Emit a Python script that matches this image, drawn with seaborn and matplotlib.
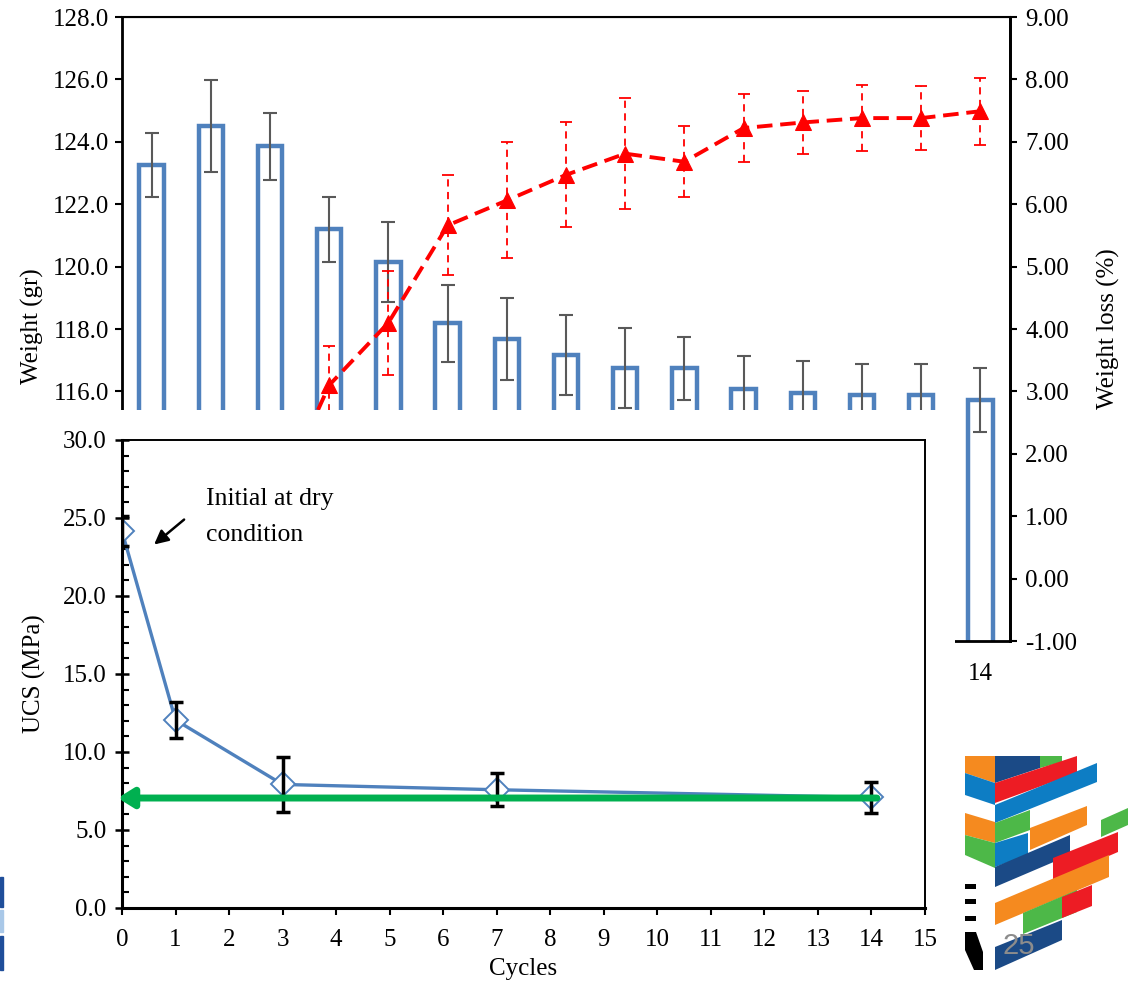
import numpy as np
import pandas as pd
import matplotlib
matplotlib.use("Agg")
import matplotlib.pyplot as plt
import seaborn as sns
from matplotlib.patches import Polygon, Rectangle
from matplotlib.ticker import FormatStrFormatter, MultipleLocator

# ---------------- data ----------------
cycles = list(range(15))
weight_gr = [123.25, 124.50, 123.85, 121.20, 120.15, 118.18, 117.68, 117.17,
             116.74, 116.74, 116.08, 115.95, 115.87, 115.87, 115.72]
weight_err = [1.02, 1.48, 1.07, 1.04, 1.28, 1.24, 1.32, 1.27,
              1.28, 1.00, 1.05, 1.03, 1.00, 1.00, 1.03]

loss_cycles = [2, 3, 4, 5, 6, 7, 8, 9, 10, 11, 12, 13, 14]
loss_pct = [1.00, 3.10, 4.10, 5.66, 6.06, 6.47, 6.81, 6.68, 7.22, 7.31, 7.38, 7.38, 7.49]
loss_err = [0.60, 0.63, 0.83, 0.80, 0.93, 0.84, 0.89, 0.57, 0.54, 0.50, 0.53, 0.51, 0.54]

ucs_cycles = [0, 1, 3, 7, 14]
ucs_mpa = [24.15, 12.05, 7.92, 7.58, 7.09]
ucs_err = [0.95, 1.15, 1.78, 1.07, 1.00]
residual_ucs = 7.05

weight_ticks = [116, 118, 120, 122, 124, 126, 128]
loss_ticks = [-1, 0, 1, 2, 3, 4, 5, 6, 7, 8, 9]
visible_cycle_label = 14

BLUE = "#4F81BD"
GRAY = "#595959"
RED = "#FF0000"
GREEN = "#00B050"

sns.set_style("ticks")
plt.rcParams["font.family"] = ["Liberation Serif", "DejaVu Serif"]
plt.rcParams["text.color"] = "black"
plt.rcParams["axes.labelcolor"] = "black"
plt.rcParams["xtick.color"] = "black"
plt.rcParams["ytick.color"] = "black"
plt.rcParams["axes.edgecolor"] = "black"

W, H = 1128, 982
fig = plt.figure(figsize=(W / 100, H / 100), dpi=100)
fig.patch.set_facecolor("white")


def box(x0, y0, x1, y1):
    return [x0 / W, 1 - y1 / H, (x1 - x0) / W, (y1 - y0) / H]


def px(pts):
    return [(x / W, 1 - y / H) for x, y in pts]


FS = 18

# ---------------- top chart: weight bars + weight loss ----------------
ax1 = fig.add_axes(box(122, 17, 1010, 641))
ax1.set_facecolor("white")
df_w = pd.DataFrame({"Cycle": cycles, "Weight": weight_gr})
sns.barplot(data=df_w, x="Cycle", y="Weight", ax=ax1, native_scale=True,
            fill=False, color=BLUE, width=0.41, linewidth=3.2, errorbar=None)
for p in ax1.patches:
    p.set_edgecolor(BLUE)
    p.set_linewidth(3.2)
ax1.errorbar(cycles, weight_gr, yerr=weight_err, fmt="none", ecolor=GRAY,
             elinewidth=1.5, capsize=5, capthick=1.5, zorder=3)
ax1.set_xlim(-0.5, 14.5)
ax1.set_ylim(108, 128)
ax1.set_yticks(weight_ticks)
ax1.yaxis.set_major_formatter(FormatStrFormatter("%.1f"))
ax1.set_xticks(cycles)
ax1.set_xticklabels([str(c) if c == visible_cycle_label else "" for c in cycles])
ax1.tick_params(axis="x", length=0, pad=16, labelsize=FS)
ax1.tick_params(axis="y", direction="out", length=5, width=1.5, labelsize=FS, pad=4)
ax1.set_xlabel("")
ax1.set_ylabel("Weight (gr)", fontsize=FS)
ax1.yaxis.set_label_coords(-0.088, 0.505)
for s in ["left", "bottom", "right"]:
    ax1.spines[s].set_linewidth(2)
ax1.spines["top"].set_linewidth(1.5)

ax2 = ax1.twinx()
sns.lineplot(x=loss_cycles, y=loss_pct, ax=ax2, color=RED, linestyle=(0, (4, 2)),
             linewidth=2.8, marker="^", markersize=11, markerfacecolor=RED,
             markeredgecolor=RED, zorder=4)
eb = ax2.errorbar(loss_cycles, loss_pct, yerr=loss_err, fmt="none", ecolor=RED,
                  elinewidth=1.3, capsize=4, capthick=1.3, zorder=4)
for lc in eb[2]:
    lc.set_linestyle((0, (4, 3)))
ax2.set_ylim(-1, 9)
ax2.set_yticks(loss_ticks)
ax2.yaxis.set_major_formatter(FormatStrFormatter("%.2f"))
ax2.tick_params(axis="y", direction="out", length=5, width=1.5, labelsize=FS, pad=6)
ax2.set_ylabel("Weight loss (%)", fontsize=FS, labelpad=14)
ax2.spines["right"].set_linewidth(2)

# ---------------- cover (slide overlay) ----------------
cover = fig.add_axes(box(0, 410, 955, 982))
cover.set_facecolor("white")
cover.set_xticks([])
cover.set_yticks([])
for s in cover.spines.values():
    s.set_visible(False)

# ---------------- bottom chart: UCS ----------------
ax3 = fig.add_axes(box(122, 440, 925, 908))
ax3.set_facecolor("white")
sns.lineplot(x=ucs_cycles, y=ucs_mpa, ax=ax3, color=BLUE, linewidth=2.4,
             marker="D", markersize=12, markerfacecolor="white",
             markeredgecolor=BLUE, markeredgewidth=1.4, zorder=3)
ax3.errorbar(ucs_cycles, ucs_mpa, yerr=ucs_err, fmt="none", ecolor="black",
             elinewidth=2.5, capsize=5, capthick=2.5, zorder=4)
ax3.annotate("", xy=(-0.08, residual_ucs), xytext=(14.1, residual_ucs),
             arrowprops=dict(arrowstyle="-|>,head_length=0.45,head_width=0.28",
                             color=GREEN, lw=5, mutation_scale=20,
                             shrinkA=0, shrinkB=0),
             zorder=5, annotation_clip=False)
ax3.annotate("", xy=(0.6, 23.3), xytext=(1.16, 24.9),
             arrowprops=dict(arrowstyle="-|>,head_length=0.6,head_width=0.3",
                             color="black", lw=1.8, mutation_scale=14,
                             shrinkA=0, shrinkB=0), zorder=5)
ax3.text(1.57, 26.95, "Initial at dry\ncondition", fontsize=18.5, ha="left",
         va="top", linespacing=1.85)
ax3.set_xlim(0, 15)
ax3.set_ylim(0, 30)
ax3.set_xticks(range(0, 16))
ax3.yaxis.set_major_locator(MultipleLocator(5))
ax3.yaxis.set_minor_locator(MultipleLocator(1))
ax3.yaxis.set_major_formatter(FormatStrFormatter("%.1f"))
ax3.tick_params(axis="x", direction="out", length=5, width=1.5, labelsize=FS, pad=10)
ax3.tick_params(axis="y", which="major", direction="inout", length=10, width=1.8,
                labelsize=FS, pad=6)
ax3.tick_params(axis="y", which="minor", direction="in", length=5, width=1.5, left=True)
ax3.set_xlabel("Cycles", fontsize=FS, labelpad=5)
ax3.set_ylabel("UCS (MPa)", fontsize=FS, labelpad=12)
ax3.spines["left"].set_linewidth(2.2)
ax3.spines["bottom"].set_linewidth(2.2)
ax3.spines["top"].set_linewidth(1.4)
ax3.spines["right"].set_linewidth(1.4)
for s in ax3.spines.values():
    s.set_visible(True)

# ---------------- slide decorations ----------------
for (y0, y1, c) in [(877, 907, "#1F4E9A"), (910, 932, "#A9C8E8"), (936, 970, "#1F4E9A")]:
    fig.add_artist(Rectangle((0, 1 - y1 / H), 3 / W, (y1 - y0) / H,
                             transform=fig.transFigure, color=c, zorder=10))

ORANGE = "#F58A1F"
NAVY = "#1B4A86"
LGREEN = "#4DB848"
LRED = "#ED1C24"
LBLUE = "#0D7DC4"
logo = [
    ([(965, 756), (995, 756), (995, 783), (965, 773)], ORANGE),
    ([(965, 773), (995, 783), (995, 805), (965, 795)], LBLUE),
    ([(965, 813), (995, 822), (995, 843), (965, 835)], ORANGE),
    ([(965, 835), (995, 843), (995, 868), (965, 855)], LGREEN),
    ([(995, 756), (1040, 756), (1040, 768), (995, 783)], NAVY),
    ([(1040, 756), (1062, 756), (1062, 762), (1040, 768)], LGREEN),
    ([(995, 783), (1077, 756), (1077, 773), (995, 803)], LRED),
    ([(995, 805), (1097, 763), (1097, 782), (995, 823)], LBLUE),
    ([(995, 823), (1030, 810), (1030, 830), (995, 843)], LGREEN),
    ([(1030, 828), (1087, 806), (1087, 825), (1030, 850)], ORANGE),
    ([(995, 843), (1028, 833), (1028, 855), (995, 867)], LBLUE),
    ([(995, 867), (1070, 835), (1070, 855), (995, 887)], NAVY),
    ([(1101, 820), (1128, 808), (1128, 825), (1101, 837)], LGREEN),
    ([(1053, 858), (1118, 832), (1118, 852), (1053, 880)], LRED),
    ([(995, 903), (1109, 855), (1109, 877), (995, 925)], ORANGE),
    ([(1023, 913), (1077, 890), (1077, 912), (1023, 934)], LGREEN),
    ([(1062, 897), (1092, 885), (1092, 906), (1062, 918)], LRED),
    ([(995, 947), (1062, 920), (1062, 940), (995, 970)], NAVY),
    ([(965, 884), (976, 884), (976, 889), (965, 889)], "black"),
    ([(965, 899), (976, 899), (976, 904), (965, 904)], "black"),
    ([(965, 916), (976, 916), (976, 921), (965, 921)], "black"),
    ([(965, 932), (976, 932), (983, 952), (983, 970), (974, 970), (965, 950)], "black"),
]
for pts, c in logo:
    fig.add_artist(Polygon(px(pts), closed=True, transform=fig.transFigure,
                           facecolor=c, edgecolor="none", zorder=10))
fig.text(1019 / W, 1 - 946 / H, "25", fontsize=21, color="#8C8C8C",
         family=["Liberation Sans", "DejaVu Sans"], ha="center", va="center", zorder=11)

fig.savefig("out.png", dpi=100, facecolor="white")
